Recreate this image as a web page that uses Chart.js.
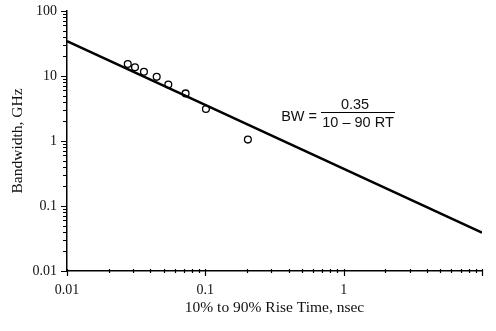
<!DOCTYPE html>
<html>
<head>
<meta charset="utf-8">
<script src="https://cdn.jsdelivr.net/npm/chart.js@4/dist/chart.umd.min.js"></script>
<style>
  html, body { margin: 0; padding: 0; background: #fff; }
  #wrap { width: 496px; height: 331px; }
</style>
</head>
<body>
<div id="wrap"><canvas id="myChart"></canvas></div>
<script>
const ctx = document.getElementById('myChart');

// measured points (rise time in nsec, bandwidth in GHz)
const riseTime = [0.0275, 0.031, 0.036, 0.0445, 0.054, 0.072, 0.101, 0.203];
const bandwidth = [15.3, 13.6, 11.6, 9.7, 7.4, 5.4, 3.1, 1.05];

// BW = 0.35 / RT line end points
const lineX = [0.01, 10];
const lineY = [34.5, 0.039];

// axis ticks
const xDecades = [0.01, 0.1, 1, 10];
const yDecades = [0.01, 0.1, 1, 10, 100];
const minorSteps = [2, 3, 4, 5, 6, 7, 8, 9];
const xLabels = [0.01, 0.1, 1];
const yLabels = [0.01, 0.1, 1, 10, 100];

function buildTicks(decades) {
  const t = [];
  decades.forEach((d, i) => {
    t.push({ value: d, major: true });
    if (i < decades.length - 1) {
      minorSteps.forEach(m => t.push({ value: +(d * m).toPrecision(3), major: false }));
    }
  });
  return t;
}

const serif = "'Liberation Serif', 'Times New Roman', serif";

const tickMarks = {
  id: 'tickMarks',
  afterDraw(chart) {
    const c = chart.ctx;
    const xs = chart.scales.x, ys = chart.scales.y;
    const area = chart.chartArea;
    c.save();
    c.strokeStyle = '#000';
    c.lineWidth = 1.2;
    c.beginPath();
    xs.ticks.forEach(t => {
      const px = Math.round(xs.getPixelForValue(t.value)) + 0.5;
      c.moveTo(px, area.bottom - 2);
      c.lineTo(px, area.bottom + (t.major ? 5 : 2));
    });
    ys.ticks.forEach(t => {
      const py = Math.round(ys.getPixelForValue(t.value)) + 0.5;
      c.moveTo(area.left - (t.major ? 6 : 4), py);
      c.lineTo(area.left, py);
    });
    c.stroke();

    // formula annotation
    const ax = xs.getPixelForValue(1.27);
    const ay = ys.getPixelForValue(2.8);
    c.fillStyle = '#111';
    c.font = "14.5px 'Liberation Sans', Arial, sans-serif";
    c.textBaseline = 'middle';
    c.textAlign = 'right';
    c.fillText('BW =', ax - 41, ay + 5);
    c.textAlign = 'center';
    c.fillText('0.35', ax - 3, ay - 7);
    c.fillText('10 \u2013 90 RT', ax, ay + 11);
    c.lineWidth = 1;
    c.beginPath();
    c.moveTo(ax - 37, Math.round(ay) + 0.5);
    c.lineTo(ax + 37, Math.round(ay) + 0.5);
    c.stroke();
    c.restore();
  }
};

new Chart(ctx, {
  type: 'scatter',
  data: {
    datasets: [{
      type: 'line',
      label: 'BW = 0.35/RT',
      data: lineX.map((x, i) => ({ x: x, y: lineY[i] })),
      borderColor: '#000',
      borderWidth: 2.5,
      pointRadius: 0,
      fill: false
    }, {
      label: 'Measured',
      data: riseTime.map((x, i) => ({ x: x, y: bandwidth[i] })),
      pointRadius: 3.4,
      pointBorderWidth: 1.3,
      borderColor: '#000',
      backgroundColor: '#fff'
    }]
  },
  plugins: [tickMarks],
  options: {
    responsive: true,
    maintainAspectRatio: false,
    animation: false,
    layout: { padding: { top: 11, right: 14, bottom: 0, left: 0 } },
    plugins: {
      legend: { display: false },
      tooltip: { enabled: false }
    },
    scales: {
      x: {
        type: 'logarithmic',
        min: 0.01,
        max: 10,
        afterBuildTicks: s => { s.ticks = buildTicks(xDecades); },
        afterFit: s => { s.height = 60; s.paddingLeft = 0; s.paddingRight = 0; },
        grid: { display: false, drawTicks: false },
        border: { display: true, color: '#000', width: 1.5 },
        ticks: {
          autoSkip: false,
          maxRotation: 0,
          padding: 11,
          color: '#111',
          font: { family: serif, size: 14 },
          callback: v => xLabels.includes(v) ? String(v) : ''
        },
        title: {
          display: true,
          text: '10% to 90% Rise Time, nsec',
          color: '#111',
          font: { family: serif, size: 15.5 },
          padding: { top: 0, bottom: 14 }
        }
      },
      y: {
        type: 'logarithmic',
        min: 0.01,
        max: 100,
        afterBuildTicks: s => { s.ticks = buildTicks(yDecades); },
        afterFit: s => { s.width = 67; s.paddingTop = 0; s.paddingBottom = 0; },
        grid: { display: false, drawTicks: false },
        border: { display: true, color: '#000', width: 1.5 },
        ticks: {
          autoSkip: false,
          padding: 10,
          color: '#111',
          font: { family: serif, size: 14 },
          callback: v => yLabels.includes(v) ? String(v) : ''
        },
        title: {
          display: true,
          text: 'Bandwidth, GHz',
          color: '#111',
          font: { family: serif, size: 15.5 },
          padding: { top: 9, bottom: 0 }
        }
      }
    }
  }
});
</script>
</body>
</html>
